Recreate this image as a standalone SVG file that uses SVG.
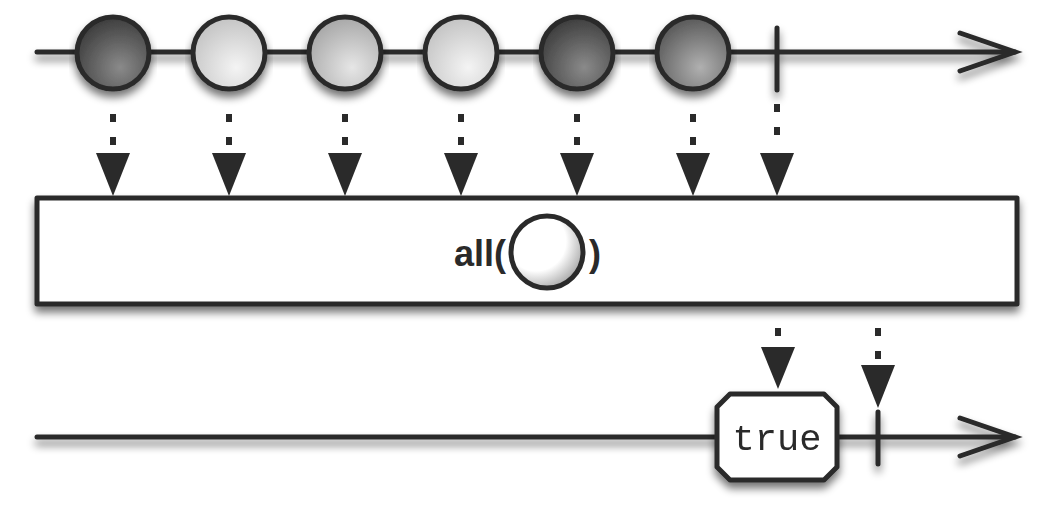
<svg xmlns="http://www.w3.org/2000/svg" width="1050" height="508" viewBox="0 0 1050 508">
<defs>
<style>
.ln{stroke:#2a2a2a;stroke-width:5;fill:none;stroke-linecap:round}
.m{stroke:#2a2a2a;stroke-width:5}
.dot{stroke:#2a2a2a;stroke-width:6;stroke-dasharray:8 15;fill:none}
.tri{fill:#2a2a2a}
.box{fill:#fff;stroke:#2a2a2a;stroke-width:5;stroke-linejoin:round}
</style>
<filter id="sh" x="-10%" y="-20%" width="120%" height="160%">
<feGaussianBlur in="SourceAlpha" stdDeviation="4"/>
<feOffset dx="0" dy="6" result="b"/>
<feComponentTransfer><feFuncA type="linear" slope="0.55"/></feComponentTransfer>
<feMerge><feMergeNode/><feMergeNode in="SourceGraphic"/></feMerge>
</filter>
<radialGradient id="gDark" cx="0.6" cy="0.7" r="0.7">
<stop offset="0" stop-color="#8a8a8a"/><stop offset="1" stop-color="#3e3e3e"/>
</radialGradient>
<radialGradient id="gLight" cx="0.6" cy="0.7" r="0.7">
<stop offset="0" stop-color="#f4f4f4"/><stop offset="1" stop-color="#c4c4c4"/>
</radialGradient>
<radialGradient id="gLight2" cx="0.6" cy="0.7" r="0.7">
<stop offset="0" stop-color="#e6e6e6"/><stop offset="1" stop-color="#a8a8a8"/>
</radialGradient>
<radialGradient id="gMid" cx="0.6" cy="0.7" r="0.7">
<stop offset="0" stop-color="#b0b0b0"/><stop offset="1" stop-color="#5a5a5a"/>
</radialGradient>
<radialGradient id="gWhite" cx="0.35" cy="0.35" r="0.75">
<stop offset="0.55" stop-color="#ffffff"/><stop offset="1" stop-color="#9a9a9a"/>
</radialGradient>
</defs>
<rect width="1050" height="508" fill="#fff"/>

<g id="connectors">
<g filter="url(#sh)">
<line class="ln" x1="37" y1="52" x2="1015" y2="52"/>
<polyline class="ln" points="960,33 1015,52 960,71"/>
<line class="ln" x1="777" y1="28" x2="777" y2="90"/>
<line class="ln" x1="37" y1="437" x2="1015" y2="437"/>
<polyline class="ln" points="960,418 1015,437 960,456"/>
<line class="ln" x1="878" y1="412" x2="878" y2="464"/>
</g>
<g>
<line class="dot" x1="113" y1="114" x2="113" y2="150"/>
<polygon class="tri" points="96,153 130,153 113,196"/>
<line class="dot" x1="229" y1="114" x2="229" y2="150"/>
<polygon class="tri" points="212,153 246,153 229,196"/>
<line class="dot" x1="345" y1="114" x2="345" y2="150"/>
<polygon class="tri" points="328,153 362,153 345,196"/>
<line class="dot" x1="461" y1="114" x2="461" y2="150"/>
<polygon class="tri" points="444,153 478,153 461,196"/>
<line class="dot" x1="577" y1="114" x2="577" y2="150"/>
<polygon class="tri" points="560,153 594,153 577,196"/>
<line class="dot" x1="693" y1="114" x2="693" y2="150"/>
<polygon class="tri" points="676,153 710,153 693,196"/>
<line class="dot" x1="777" y1="104" x2="777" y2="150"/>
<polygon class="tri" points="760,153 794,153 777,196"/>
<line class="dot" x1="778" y1="328" x2="778" y2="344"/>
<polygon class="tri" points="761,347 795,347 778,389"/>
<line class="dot" x1="878" y1="328" x2="878" y2="362"/>
<polygon class="tri" points="861,365 895,365 878,408"/>
</g>
</g>

<g id="marble1" filter="url(#sh)"><circle class="m" cx="113" cy="53" r="36" fill="url(#gDark)"/></g>
<g id="marble2" filter="url(#sh)"><circle class="m" cx="229" cy="53" r="36" fill="url(#gLight)"/></g>
<g id="marble3" filter="url(#sh)"><circle class="m" cx="345" cy="53" r="36" fill="url(#gLight2)"/></g>
<g id="marble4" filter="url(#sh)"><circle class="m" cx="461" cy="53" r="36" fill="url(#gLight)"/></g>
<g id="marble5" filter="url(#sh)"><circle class="m" cx="577" cy="53" r="36" fill="url(#gDark)"/></g>
<g id="marble6" filter="url(#sh)"><circle class="m" cx="693" cy="53" r="36" fill="url(#gMid)"/></g>

<g id="operator">
<rect class="box" x="37" y="198" width="980" height="106" filter="url(#sh)" stroke-linejoin="miter"/>
<text x="506" y="266" text-anchor="end" font-family="Liberation Sans, Arial, sans-serif" font-weight="bold" font-size="36" fill="#2a2a2a">all(</text>
<circle class="m" cx="547" cy="252" r="36" fill="url(#gWhite)" stroke-width="4"/>
<text x="589" y="266" font-family="Liberation Sans, Arial, sans-serif" font-weight="bold" font-size="36" fill="#2a2a2a">)</text>
</g>

<g id="result" filter="url(#sh)">
<polygon class="box" points="730,394 824,394 837,407 837,467 824,480 730,480 717,467 717,407"/>
<text x="777" y="450" text-anchor="middle" font-family="Liberation Mono, Courier New, monospace" font-size="37" fill="#2a2a2a">true</text>
</g>
</svg>
